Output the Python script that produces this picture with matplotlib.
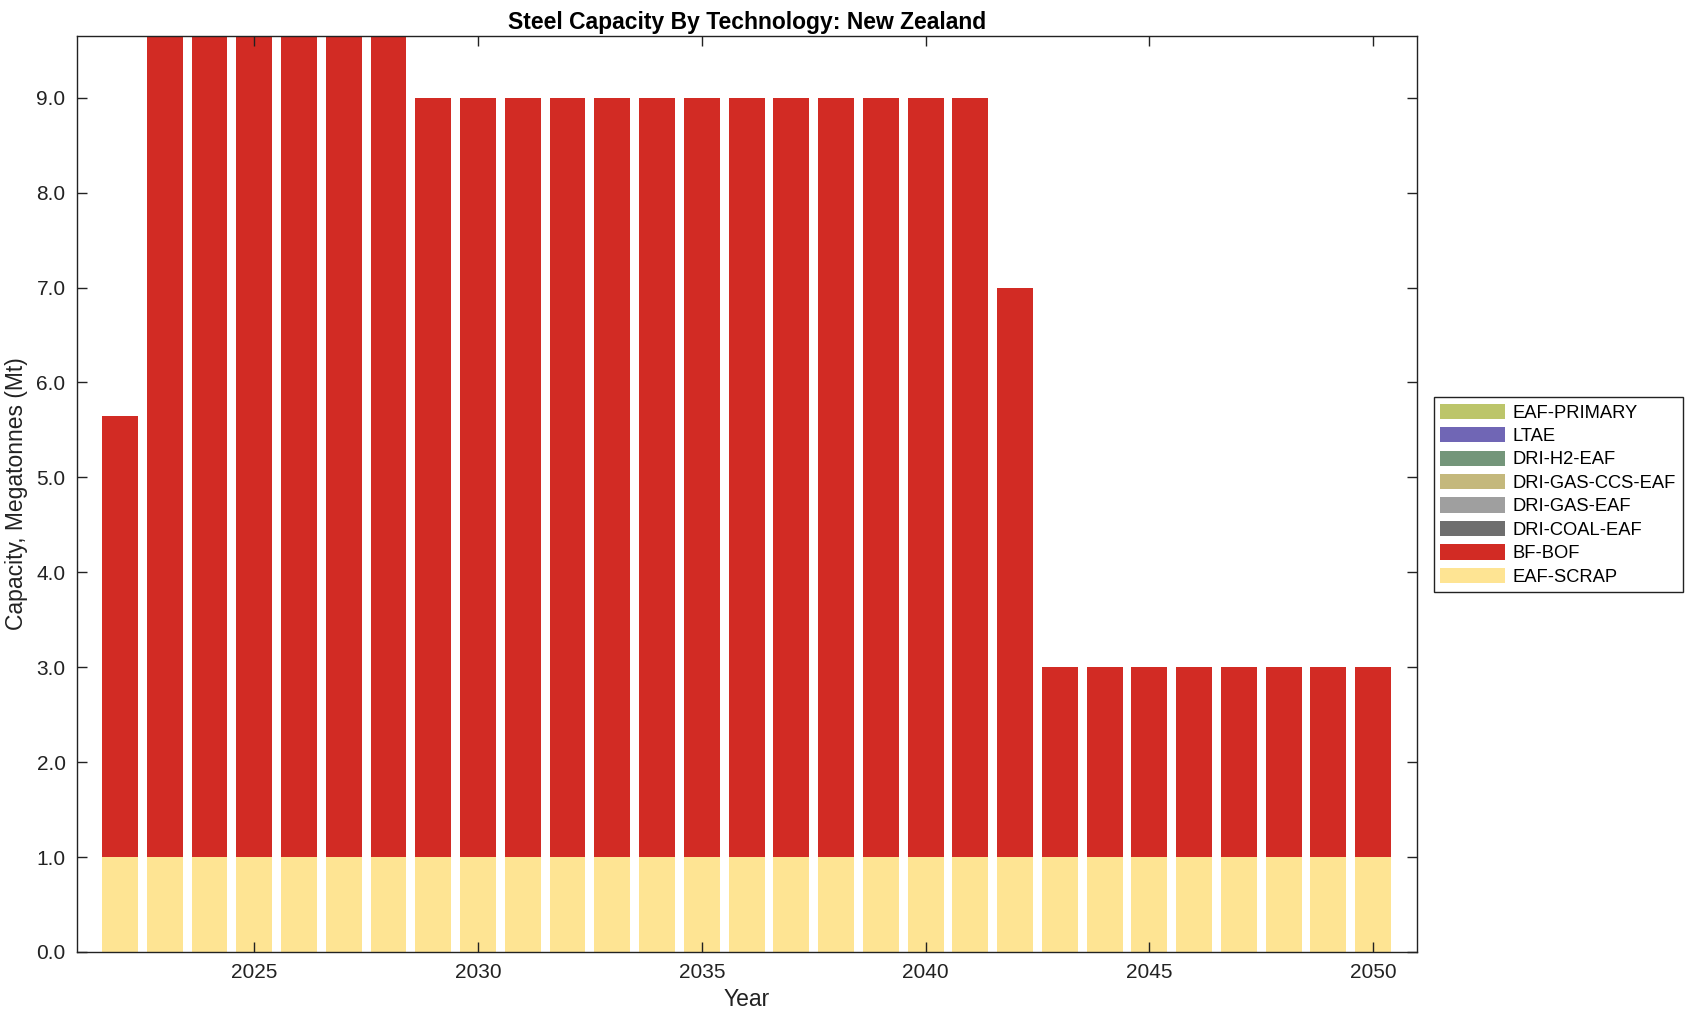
"""Steel capacity by technology, New Zealand: stacked bars per year."""
import matplotlib

matplotlib.use("Agg")
import matplotlib.pyplot as plt
import numpy as np

plt.rcParams["font.family"] = ["Liberation Sans", "DejaVu Sans"]

years = list(range(2022, 2051))
technologies = [
    "EAF-SCRAP", "BF-BOF", "DRI-COAL-EAF", "DRI-GAS-EAF",
    "DRI-GAS-CCS-EAF", "DRI-H2-EAF", "LTAE", "EAF-PRIMARY",
]
eaf_scrap = [1.0] * 29
bf_bof = [4.65] + [8.65] * 6 + [8.0] * 13 + [6.0] + [2.0] * 8
zeros = [0.0] * 29
series = {
    "EAF-SCRAP": eaf_scrap,
    "BF-BOF": bf_bof,
    "DRI-COAL-EAF": zeros,
    "DRI-GAS-EAF": zeros,
    "DRI-GAS-CCS-EAF": zeros,
    "DRI-H2-EAF": zeros,
    "LTAE": zeros,
    "EAF-PRIMARY": zeros,
}
colors = {
    "EAF-SCRAP": "#fee493",
    "BF-BOF": "#d22b24",
    "DRI-COAL-EAF": "#6e6e6e",
    "DRI-GAS-EAF": "#9f9f9f",
    "DRI-GAS-CCS-EAF": "#c4b87c",
    "DRI-H2-EAF": "#74967a",
    "LTAE": "#7066b5",
    "EAF-PRIMARY": "#bcc56a",
}

fig = plt.figure(figsize=(16.96, 10.21), dpi=100)
ax = fig.add_axes([0.0452, 0.0676, 0.7903, 0.8971])

bottom = np.zeros(len(years))
handles = {}
for tech in technologies:
    vals = np.array(series[tech])
    h = ax.bar(years, vals, width=0.8, bottom=bottom, color=colors[tech],
               edgecolor="none", label=tech)
    handles[tech] = h
    bottom += vals

ax.set_xlim(2021.03, 2050.98)
ax.set_ylim(0, 9.65)
ax.set_yticks(np.arange(0, 10, 1.0))
ax.set_yticklabels([f"{v:.1f}" for v in np.arange(0, 10, 1.0)])
ax.set_xticks(range(2025, 2051, 5))
ax.tick_params(direction="in", length=7, width=1, top=True, right=True,
               labelsize=15, colors="#222222", pad=8)
for s in ax.spines.values():
    s.set_linewidth(1)
    s.set_color("#222222")

ax.set_xlabel("Year", fontsize=16.5, color="#222222", labelpad=4)
ax.set_ylabel("Capacity, Megatonnes (Mt)", fontsize=16.5, color="#222222", labelpad=6)
ax.set_title("Steel Capacity By Technology: New Zealand", fontsize=16.5,
             fontweight="bold", pad=5)

order = list(reversed(technologies))
leg = fig.legend([handles[t] for t in order], order, loc="center left",
                 bbox_to_anchor=(0.8455, 0.5155), fontsize=13.2,
                 handlelength=3.5, handleheight=0.9, labelspacing=0.3,
                 handletextpad=0.45, borderpad=0.35, borderaxespad=0,
                 fancybox=False, edgecolor="#222222", framealpha=1)
leg.get_frame().set_linewidth(1)

fig.savefig("out.png", dpi=100)
